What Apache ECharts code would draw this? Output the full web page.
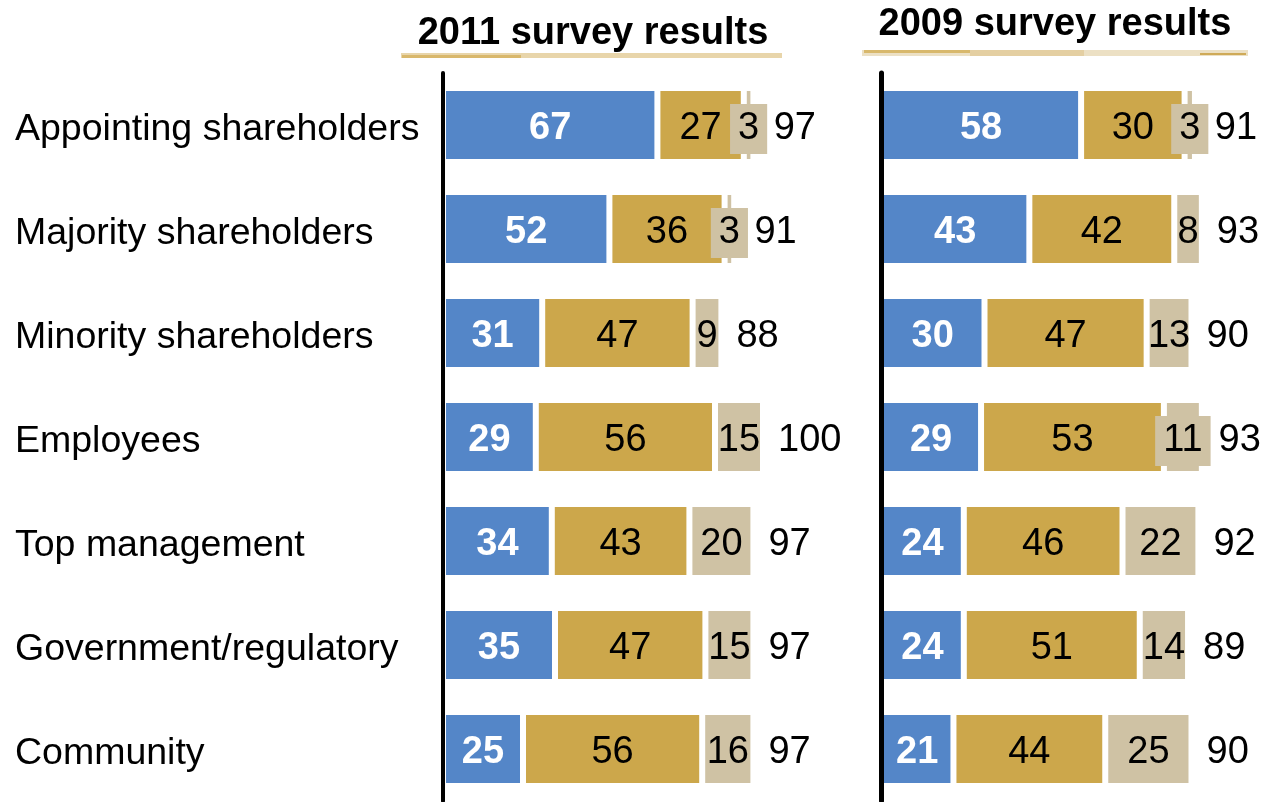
<!DOCTYPE html>
<html>
<head>
<meta charset="utf-8">
<script src="https://cdn.jsdelivr.net/npm/echarts@6/dist/echarts.min.js"></script>
<style>
  html, body { margin: 0; padding: 0; background: #fff; }
  #chart { width: 1261px; height: 802px; }
</style>
</head>
<body>
<div id="chart"></div>
<script>
// Stakeholder groups, top to bottom
const categories = [
  'Appointing shareholders',
  'Majority shareholders',
  'Minority shareholders',
  'Employees',
  'Top management',
  'Government/regulatory',
  'Community'
];

// 2011 survey results (%)
const blue2011  = [67, 52, 31, 29, 34, 35, 25];
const gold2011  = [27, 36, 47, 56, 43, 47, 56];
const beige2011 = [3, 3, 9, 15, 20, 15, 16];
const total2011 = [97, 91, 88, 100, 97, 97, 97];

// 2009 survey results (%)
const blue2009  = [58, 43, 30, 29, 24, 24, 21];
const gold2009  = [30, 42, 47, 53, 46, 51, 44];
const beige2009 = [3, 8, 13, 11, 22, 14, 25];
const total2009 = [91, 93, 90, 93, 92, 89, 90];

const panelTitles = ['2011 survey results', '2009 survey results'];

const FONT = "'Liberation Sans', Arial, Helvetica, sans-serif";
const FS_CAT = 37.5;
const FS_NUM = 38;
const LABEL_SHIFT = [0, 4];
const BLUE = '#5486c8', GOLD = '#cca74b', BEIGE = '#cfc2a4';

// grid geometry: left edge and width for an axis running 0..100
const panels = [
  { left: 443, width: 320, axisOffset: 2, axisWidth: 4, blue: blue2011, gold: gold2011, beige: beige2011, total: total2011 },
  { left: 881, width: 345, axisOffset: 3.5, axisWidth: 5, blue: blue2009, gold: gold2009, beige: beige2009, total: total2009 }
];

const chart = echarts.init(document.getElementById('chart'), null, { renderer: 'canvas' });

const grids = [], xAxes = [], yAxes = [], series = [];

panels.forEach((p, k) => {
  const pxPerUnit = p.width / 100;
  grids.push({ left: p.left, width: p.width, top: 73, bottom: 1, containLabel: false });
  xAxes.push({ type: 'value', gridIndex: k, min: 0, max: 100, show: false });
  yAxes.push({
    type: 'category', gridIndex: k, data: categories, inverse: true,
    offset: p.axisOffset, z: 10,
    axisLine: { show: true, lineStyle: { color: '#000', width: p.axisWidth } },
    axisTick: { show: false },
    splitLine: { show: false },
    axisLabel: k === 0 ? {
      show: true, align: 'left', margin: 426,
      formatter: v => '{c|' + v + '}',
      rich: { c: { fontSize: FS_CAT, color: '#000', fontFamily: FONT, padding: [10, 0, 0, 0] } }
    } : { show: false }
  });

  const common = {
    type: 'bar', stack: 'p' + k, xAxisIndex: k, yAxisIndex: k,
    barWidth: 74, silent: true,
    itemStyle: { borderColor: '#fff', borderWidth: 3 }
  };

  series.push(Object.assign({}, common, {
    name: 'blue' + k, data: p.blue,
    itemStyle: Object.assign({}, common.itemStyle, { color: BLUE }),
    label: { show: true, position: 'inside', offset: LABEL_SHIFT, color: '#fff', fontWeight: 'bold', fontSize: FS_NUM, fontFamily: FONT }
  }));
  series.push(Object.assign({}, common, {
    name: 'gold' + k, data: p.gold,
    itemStyle: Object.assign({}, common.itemStyle, { color: GOLD }),
    label: { show: true, position: 'inside', offset: LABEL_SHIFT, color: '#000', fontSize: FS_NUM, fontFamily: FONT }
  }));

  // small segments get a tag wider than the bar so the number stays readable
  const digitW = 0.556 * FS_NUM;
  const boxInfo = p.beige.map(v => {
    const barPx = v * pxPerUnit - 3;
    const textW = String(v).length * digitW;
    const boxed = barPx < textW - 4;
    return { boxed: boxed, overhang: boxed ? (textW + 16 - barPx) / 2 : 0 };
  });

  series.push(Object.assign({}, common, {
    name: 'beige' + k,
    data: p.beige.map((v, i) => boxInfo[i].boxed ? {
      value: v,
      label: { backgroundColor: BEIGE, padding: [5, 8, 7, 8] }
    } : v),
    itemStyle: Object.assign({}, common.itemStyle, { color: BEIGE }),
    label: { show: true, position: 'inside', offset: LABEL_SHIFT, color: '#000', fontSize: FS_NUM, fontFamily: FONT }
  }));

  // row totals sit just past the end of each stacked bar
  series.push({
    type: 'scatter', xAxisIndex: k, yAxisIndex: k, silent: true,
    symbolSize: 0,
    itemStyle: { opacity: 1 },
    data: p.total.map((t, i) => ({
      value: [p.blue[i] + p.gold[i] + p.beige[i], i],
      label: { distance: boxInfo[i].boxed ? 5 + boxInfo[i].overhang : 15 }
    })),
    label: {
      show: true, position: 'right', offset: LABEL_SHIFT, color: '#000', opacity: 1,
      fontSize: FS_NUM, fontFamily: FONT,
      formatter: prm => String(p.total[prm.dataIndex])
    }
  });
});

const titleStyle = { fontSize: 38, fontWeight: 'bold', fill: '#000', fontFamily: FONT, align: 'center', verticalAlign: 'middle' };

chart.setOption({
  animation: false,
  backgroundColor: '#fff',
  grid: grids,
  xAxis: xAxes,
  yAxis: yAxes,
  graphic: [
    // panel headings
    { type: 'text', x: 593, y: 34, silent: true, style: Object.assign({ text: panelTitles[0] }, titleStyle) },
    { type: 'text', x: 1055, y: 25, silent: true, style: Object.assign({ text: panelTitles[1] }, titleStyle) },
    // gold rules under the panel headings
    { type: 'rect', shape: { x: 401, y: 53, width: 381, height: 5 }, style: { fill: '#e8d5aa' }, silent: true },
    { type: 'rect', shape: { x: 402, y: 55, width: 119, height: 3 }, style: { fill: '#d9b86c' }, silent: true },
    { type: 'rect', shape: { x: 862, y: 50, width: 386, height: 6 }, style: { fill: '#ece0c4' }, silent: true },
    { type: 'rect', shape: { x: 864, y: 50, width: 106, height: 3 }, style: { fill: '#d8b86c' }, silent: true },
    { type: 'rect', shape: { x: 970, y: 50, width: 114, height: 6 }, style: { fill: '#e4cfa2' }, silent: true },
    { type: 'rect', shape: { x: 1200, y: 53, width: 46, height: 2 }, style: { fill: '#cfaa58' }, silent: true }
  ],
  series: series
});
</script>
</body>
</html>
